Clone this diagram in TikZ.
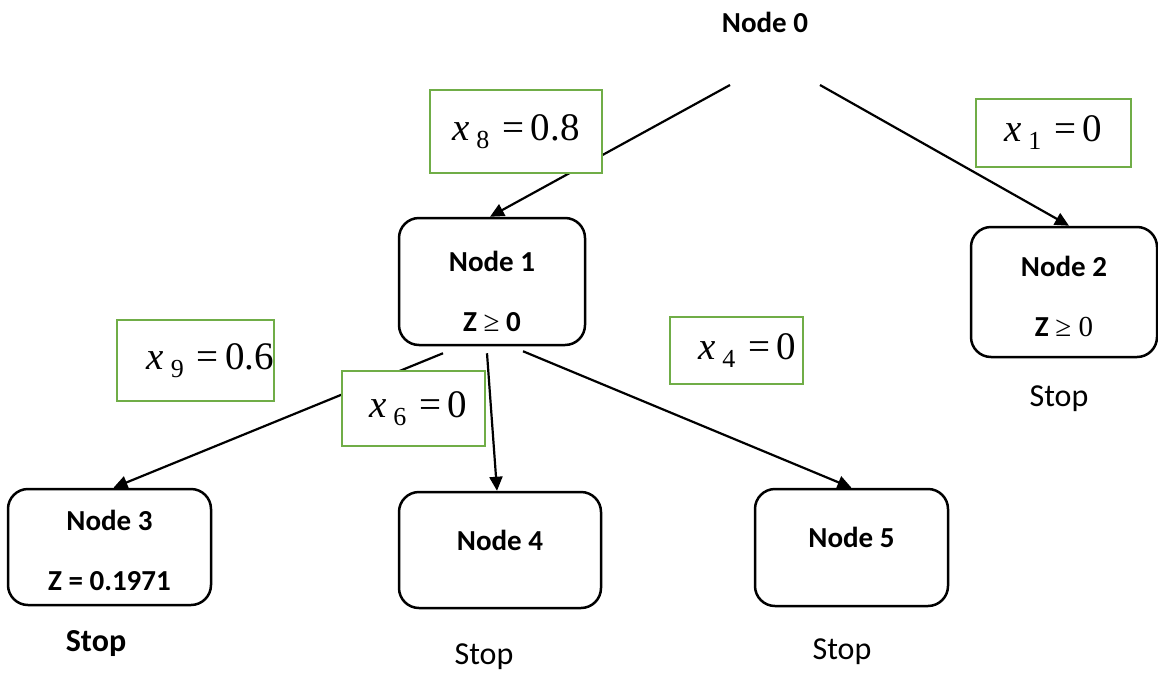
\documentclass[tikz,border=0pt]{standalone}
\usepackage{fontspec}
\setmainfont{Carlito}
\newfontfamily\tnr{Liberation Serif}
\usetikzlibrary{arrows.meta}
\definecolor{valgreen}{RGB}{112,173,71}
\newcommand{\xval}[2]{{\tnr\fontsize{39}{39}\selectfont\textit{x}\,\raisebox{-8pt}{\fontsize{26}{26}\selectfont #1}\,\,=\,#2}}

\tikzset{
  treebox/.style={draw, line width=2.5pt, rounded corners=20pt, align=center,
    font=\fontsize{29}{60}\selectfont\bfseries},
  valbox/.style={draw=valgreen, line width=2.5pt, fill=white, inner sep=0pt},
  arr/.style={line width=2.2pt, -{Triangle[length=14pt,width=13pt]}},
  stoplbl/.style={font=\fontsize{32}{32}\selectfont},
}

\begin{document}
\begin{tikzpicture}[x=1pt, y=-1pt]
			%%%%% START %%%%%
			\useasboundingbox (0, 0) rectangle (1158, 672);

			\node[font=\fontsize{29}{29}\selectfont\bfseries] (n0) at (765, 22) {Node 0};

			\node[treebox, minimum width=186pt, minimum height=127pt] (n1) at (492, 281.5) {\rule{0pt}{40pt}Node 1\\ Z {\tnr\mdseries ≥} 0};
			\node[treebox, minimum width=186pt, minimum height=130pt] (n2) at (1064, 292) {\rule{0pt}{30pt}Node 2\\ Z {\tnr\mdseries ≥ 0}};
			\node[treebox, minimum width=203pt, minimum height=116pt] (n3) at (109.5, 547) {\rule{0pt}{28pt}Node 3\\ Z = 0.1971};
			\node[treebox, minimum width=202pt, minimum height=116pt] (n4) at (500, 550) {\rule[-20pt]{0pt}{20pt}Node 4};
			\node[treebox, minimum width=193pt, minimum height=117pt] (n5) at (851.5, 547.5) {\rule[-20pt]{0pt}{20pt}Node 5};

			\node[stoplbl] (s2) at (1059, 399) {Stop};
			\node[stoplbl, font=\fontsize{32}{32}\selectfont\bfseries] (s3) at (96, 644) {Stop};
			\node[stoplbl] (s4) at (484, 657) {Stop};
			\node[stoplbl] (s5) at (842, 652) {Stop};

			\draw[arr] ([shift={(-35,63)}]n0.center) -- ([xshift=-2pt]n1.north);
			\draw[arr] ([shift={(55,63)}]n0.center) -- ([xshift=5pt]n2.north);
			\draw[arr] ([shift={(-49,7)}]n1.south) -- ([xshift=4pt]n3.north);
			\draw[arr] ([shift={(-5,7)}]n1.south) -- ([xshift=-3pt]n4.north);
			\draw[arr] ([shift={(31,5)}]n1.south) -- (n5.north);

			\node[valbox, minimum width=172pt, minimum height=83pt] (v8) at (516, 131.5) {\xval{8}{0.8}};
			\node[valbox, minimum width=155pt, minimum height=68pt] (v1) at (1053.5, 133) {\xval{1}{0}};
			\node[valbox, minimum width=155pt, minimum height=81pt] (v9) at (195.5, 360.5) {\hspace{30pt}\xval{9}{0.6}};
			\node[valbox, minimum width=143pt, minimum height=75pt] (v6) at (413.5, 408.5) {\hspace{10pt}\xval{6}{0}};
			\node[valbox, minimum width=133pt, minimum height=67pt] (v4) at (736.5, 350.5) {\hspace{22pt}\xval{4}{0}};
			%%%%% END %%%%%
\end{tikzpicture}
\end{document}
